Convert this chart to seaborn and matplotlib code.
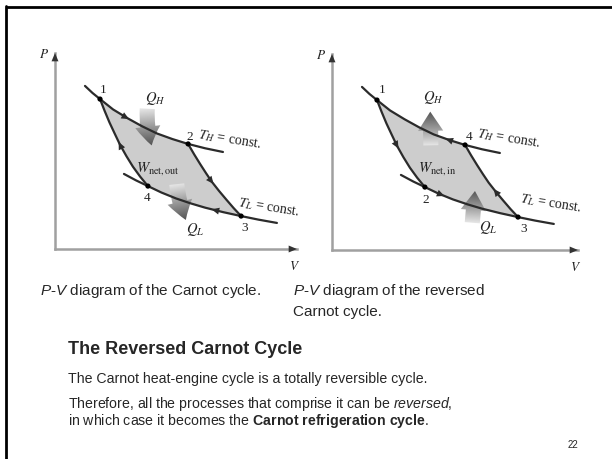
import numpy as np
import pandas as pd
import matplotlib
import matplotlib.pyplot as plt
import seaborn as sns
from matplotlib.patches import FancyArrowPatch
from matplotlib.lines import Line2D
from matplotlib.colors import LinearSegmentedColormap

# state points of the cycle (V, P)
V_state = [18.6, 55.0, 76.9, 38.4]
P_state = [76.5, 53.6, 16.8, 32.1]
labels_engine = ['1', '2', '3', '4']
labels_fridge = ['1', '4', '3', '2']

# isotherms and adiabats
V_high = [12.4, 15.5, 18.6, 24.0, 30.0, 36.0, 42.0, 48.5, 55.0, 62.0, 69.4]
P_high = [83.2, 79.6, 76.5, 71.2, 66.7, 62.6, 59.0, 56.1, 53.6, 51.4, 49.5]
V_low = [28.5, 33.5, 38.4, 44.0, 50.0, 56.0, 62.0, 69.5, 76.9, 84.0, 91.7]
P_low = [38.3, 35.0, 32.1, 28.8, 25.8, 23.3, 21.1, 18.8, 16.8, 15.0, 13.3]
V_ad14 = [18.6, 20.5, 22.5, 24.7, 26.9, 29.5, 32.2, 35.2, 38.4]
P_ad14 = [76.5, 70.5, 64.6, 58.8, 53.1, 47.4, 42.0, 36.9, 32.1]
V_ad23 = [55.0, 57.5, 60.0, 62.4, 64.8, 67.8, 70.8, 73.8, 76.9]
P_ad23 = [53.6, 48.3, 43.3, 38.7, 34.3, 29.6, 25.2, 20.9, 16.8]

sns.set_theme(style="white")
plt.rcParams['font.family'] = ['Liberation Sans', 'DejaVu Sans']
plt.rcParams['mathtext.fontset'] = 'custom'
plt.rcParams['mathtext.rm'] = 'Liberation Sans'
plt.rcParams['mathtext.it'] = 'Liberation Sans:italic'
plt.rcParams['mathtext.bf'] = 'Liberation Sans:bold'

fig = plt.figure(figsize=(6.12, 4.59), dpi=100)
fig.patch.set_facecolor('white')

# slide frame
fig.add_artist(Line2D([7 / 612, 1], [1 - 7 / 459] * 2, color='black', lw=2))
fig.add_artist(Line2D([6 / 612] * 2, [0, 1 - 6 / 459], color='black', lw=2))

LINE = '#2b2b2b'
grad_cmap = LinearSegmentedColormap.from_list('g', ['#f2f2f2', '#9a9a9a', '#4a4a4a'])
serif = dict(family='Liberation Serif', math_fontfamily='stix', color='#222222')


def curve(V, P):
    return pd.DataFrame({'V': V, 'P': P})


def grad_arrow(ax, start, end, rad=0.0):
    arr = FancyArrowPatch(start, end, connectionstyle=f'arc3,rad={rad}',
                          arrowstyle='simple,head_length=0.95,head_width=1.25,tail_width=0.75',
                          mutation_scale=14.5, fc='none', ec='none', zorder=3.9)
    ax.add_patch(arr)
    X, Y = np.meshgrid(np.linspace(0, 105, 300), np.linspace(0, 100, 300))
    dx, dy = end[0] - start[0], end[1] - start[1]
    t = np.clip(((X - start[0]) * dx + (Y - start[1]) * dy) / (dx * dx + dy * dy), 0, 1)
    im = ax.imshow(t, extent=(0, 105, 0, 100), origin='lower', cmap=grad_cmap,
                   vmin=0, vmax=1, aspect='auto', interpolation='bilinear', zorder=4)
    im.set_clip_path(arr)


def flow_arrow(ax, Vc, Pc, v, sign):
    p = np.interp(v, Vc, Pc)
    dv = 0.6 * sign
    p2 = np.interp(v + dv, Vc, Pc)
    ax.annotate('', xy=(v + dv, p2), xytext=(v, p),
                arrowprops=dict(arrowstyle='-|>,head_length=0.55,head_width=0.25',
                                color=LINE, lw=0, shrinkA=0, shrinkB=0,
                                mutation_scale=10), zorder=6)


def diagram(rect, xmax, labels, arrows, qh, ql, wtext):
    ax = fig.add_axes(rect)
    for s in ['top', 'right']:
        ax.spines[s].set_visible(False)
    for s in ['left', 'bottom']:
        ax.spines[s].set_color('#a0a0a0')
        ax.spines[s].set_linewidth(1.8)
    ax.set_xticks([])
    ax.set_yticks([])
    ax.set_facecolor('none')

    # shaded cycle area
    vh, ph = np.array(V_high), np.array(P_high)
    vl, pl = np.array(V_low), np.array(P_low)
    m_h = (vh >= V_state[0]) & (vh <= V_state[1])
    m_l = (vl >= V_state[3]) & (vl <= V_state[2])
    poly_v = np.concatenate([vh[m_h], V_ad23, vl[m_l][::-1], V_ad14[::-1]])
    poly_p = np.concatenate([ph[m_h], P_ad23, pl[m_l][::-1], P_ad14[::-1]])
    ax.fill(poly_v, poly_p, color='#cdcdcd', lw=0, zorder=1)

    for Vc, Pc in [(V_high, P_high), (V_low, P_low), (V_ad14, P_ad14), (V_ad23, P_ad23)]:
        sns.lineplot(data=curve(Vc, Pc), x='V', y='P', sort=False, color=LINE,
                     lw=1.6, ax=ax, zorder=5)
    sns.scatterplot(x=V_state, y=P_state, color='black', s=14, ax=ax, zorder=7,
                    edgecolor='none')

    for (Vc, Pc, v, sg) in arrows:
        flow_arrow(ax, Vc, Pc, v, sg)

    grad_arrow(ax, *qh)
    grad_arrow(ax, *ql)

    for lab, (x, y) in labels:
        ax.text(x, y, lab, fontsize=9.5, ha='center', va='center', **serif)
    for txt, (x, y, kw) in wtext:
        ax.text(x, y, txt, **kw, **serif)

    ax.set_xlim(0, xmax)
    ax.set_ylim(0, 100)
    ax.set_xlabel('')
    ax.set_ylabel('')
    # axis arrow heads
    ax.annotate('', xy=(1, 0), xytext=(0.97, 0), xycoords='axes fraction',
                arrowprops=dict(arrowstyle='-|>,head_length=0.6,head_width=0.25',
                                color='#333333', lw=0, shrinkA=0, shrinkB=0, mutation_scale=10))
    ax.annotate('', xy=(0, 1), xytext=(0, 0.97), xycoords='axes fraction',
                arrowprops=dict(arrowstyle='-|>,head_length=0.6,head_width=0.25',
                                color='#333333', lw=0, shrinkA=0, shrinkB=0, mutation_scale=10))
    ax.text(-0.045, 0.99, r'$P$', transform=ax.transAxes, fontsize=9.5, ha='center', va='center', **serif)
    ax.text(0.99, -0.09, r'$V$', transform=ax.transAxes, fontsize=9.5, ha='center', va='center', **serif)
    return ax


# heat engine
diagram([55 / 612, 1 - 249 / 459, 242 / 612, 196 / 459], 100,
        labels=[('1', (19.8, 81.1)), ('2', (55.8, 57.3)), ('3', (78.5, 10.7)), ('4', (38.0, 26.0))],
        arrows=[(V_high, P_high, 30.0, 1), (V_ad23, P_ad23, 64.9, 1),
                (V_low, P_low, 65.3, -1), (V_ad14, P_ad14, 26.9, -1)],
        qh=((38.2, 73.0), (40.3, 51.5), 0.1),
        ql=((50.2, 34.5), (54.5, 13.5), 0.08),
        wtext=[(r'$Q_H$', (41.3, 77.0, dict(fontsize=10.5, ha='center', va='center'))),
               (r'$T_H$ = const.', (58.5, 56.0, dict(fontsize=10, ha='left', va='center', rotation=-9))),
               (r'$W_{\rm net,out}$', (42.6, 41.3, dict(fontsize=10.5, ha='center', va='center'))),
               (r'$T_L$ = const.', (75.4, 21.2, dict(fontsize=10, ha='left', va='center', rotation=-9))),
               (r'$Q_L$', (57.9, 9.7, dict(fontsize=10.5, ha='center', va='center')))])

# refrigerator
diagram([332 / 612, 1 - 250 / 459, 246 / 612, 196 / 459], 101.7,
        labels=[('1', (20.7, 81.6)), ('4', (56.6, 57.7)), ('3', (79.3, 10.7)), ('2', (38.8, 25.5))],
        arrows=[(V_ad14, P_ad14, 26.9, 1), (V_low, P_low, 45.9, 1),
                (V_ad23, P_ad23, 67.4, -1), (V_high, P_high, 47.5, -1)],
        qh=((40.9, 52.0), (40.6, 72.0), 0.0),
        ql=((57.9, 12.5), (59.2, 31.5), 0.0),
        wtext=[(r'$Q_H$', (41.7, 77.6, dict(fontsize=10.5, ha='center', va='center'))),
               (r'$T_H$ = const.', (59.7, 57.0, dict(fontsize=10, ha='left', va='center', rotation=-9))),
               (r'$W_{\rm net,in}$', (43.4, 41.8, dict(fontsize=10.5, ha='center', va='center'))),
               (r'$T_L$ = const.', (77.5, 23.7, dict(fontsize=10, ha='left', va='center', rotation=-9))),
               (r'$Q_L$', (64.5, 11.7, dict(fontsize=10.5, ha='center', va='center')))])

# slide text
def ftext(x, y, s, **kw):
    fig.text(x / 612, 1 - y / 459, s, **kw)

ftext(40, 291, r'$\mathit{P}$-$\mathit{V}$ diagram of the Carnot cycle.', fontsize=11, va='center')
ftext(293, 291, r'$\mathit{P}$-$\mathit{V}$ diagram of the reversed', fontsize=11, va='center')
ftext(293, 312, 'Carnot cycle.', fontsize=11, va='center')
ftext(68, 350, 'The Reversed Carnot Cycle', fontsize=13, fontweight='bold', va='center')
ftext(68, 379, 'The Carnot heat-engine cycle is a totally reversible cycle.', fontsize=10.2, va='center')
ftext(68, 404, r'Therefore, all the processes that comprise it can be $\mathit{reversed}$,', fontsize=10.2, va='center')
ftext(68, 421, r'in which case it becomes the $\mathbf{Carnot\ refrigeration\ cycle}$.', fontsize=10.2, va='center')
ftext(573, 445, '22', fontsize=7, ha='center', va='center')

fig.savefig('out.png', dpi=100)
